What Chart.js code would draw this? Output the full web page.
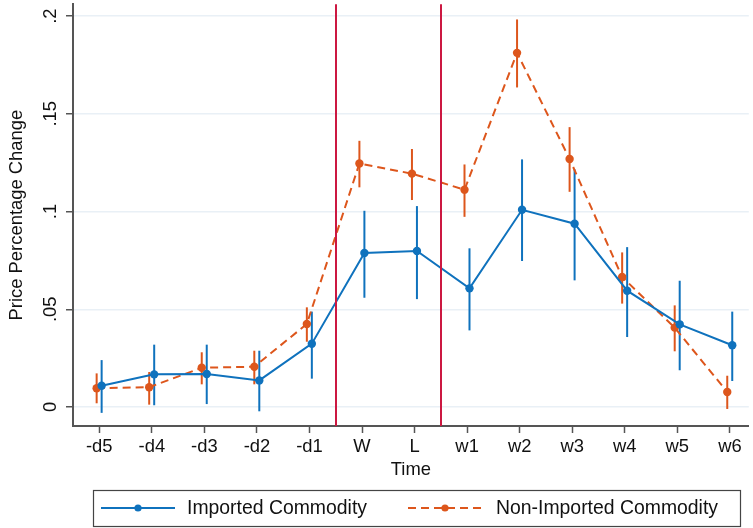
<!DOCTYPE html>
<html>
<head>
<meta charset="utf-8">
<title>Price Percentage Change over Time</title>
<script src="https://cdn.jsdelivr.net/npm/chart.js@4/dist/chart.umd.min.js"></script>
<style>
  html, body { margin: 0; padding: 0; background: #ffffff; }
  #wrap { width: 753px; height: 528px; }
</style>
</head>
<body>
<div id="wrap"><canvas id="chart" width="753" height="528"></canvas></div>
<script>
// Event periods
const timeLabels = ['-d5', '-d4', '-d3', '-d2', '-d1', 'W', 'L', 'w1', 'w2', 'w3', 'w4', 'w5', 'w6'];

// Imported commodity: estimate and confidence interval
const importedMean = [0.0109, 0.0167, 0.0169, 0.0136, 0.0324, 0.0788, 0.0798, 0.0607, 0.1009, 0.0938, 0.0595, 0.0423, 0.0316];
const importedLow  = [-0.0030, 0.0009, 0.0015, -0.0022, 0.0145, 0.0559, 0.0552, 0.0392, 0.0747, 0.0648, 0.0358, 0.0188, 0.0133];
const importedHigh = [0.0240, 0.0319, 0.0319, 0.0288, 0.0488, 0.1004, 0.1028, 0.0812, 0.1267, 0.1216, 0.0818, 0.0646, 0.0488];

// Non-imported commodity: estimate and confidence interval
const nonImportedMean = [0.0096, 0.0101, 0.0201, 0.0206, 0.0425, 0.1246, 0.1194, 0.1112, 0.1812, 0.1269, 0.0665, 0.0406, 0.0077];
const nonImportedLow  = [0.0019, 0.0012, 0.0116, 0.0116, 0.0334, 0.1124, 0.1059, 0.0973, 0.1635, 0.1101, 0.0529, 0.0285, -0.0010];
const nonImportedHigh = [0.0172, 0.0179, 0.0280, 0.0288, 0.0510, 0.1362, 0.1320, 0.1241, 0.1983, 0.1432, 0.0791, 0.0520, 0.0160];

// Y axis ticks and their labels
const yTickValues = [0, 0.05, 0.1, 0.15, 0.2];
const yTickLabels = ['0', '.05', '.1', '.15', '.2'];

// Period boundaries (between -d1/W and between L/w1)
const periodBreaks = [4.5, 6.5];

const BLUE = '#0f72bd';
const ORANGE = '#dd561c';
const CRIMSON = '#cc1841';
const AXIS = '#555555';
const FONT = '"Liberation Sans", Arial, Helvetica, sans-serif';

// small horizontal dodge so the two series do not overlap
const dodge = { imported: 0.045, nonImported: -0.05 };

function toPoints(values, shift) {
  return values.map((v, i) => ({ x: i + shift, y: v }));
}

Chart.defaults.font.family = FONT;
Chart.defaults.color = '#111111';

// Confidence-interval spikes drawn from each dataset's low/high arrays
const intervalPlugin = {
  id: 'intervals',
  beforeDatasetsDraw(chart) {
    const { ctx, scales: { x, y } } = chart;
    ctx.save();
    chart.data.datasets.forEach((ds, di) => {
      if (!chart.isDatasetVisible(di)) return;
      ctx.strokeStyle = ds.borderColor;
      ctx.lineWidth = 2;
      ds.data.forEach((p, i) => {
        const px = x.getPixelForValue(p.x);
        ctx.beginPath();
        ctx.moveTo(px, y.getPixelForValue(ds.ciLow[i]));
        ctx.lineTo(px, y.getPixelForValue(ds.ciHigh[i]));
        ctx.stroke();
      });
    });
    ctx.restore();
  }
};

// Vertical period markers
const breakPlugin = {
  id: 'breaks',
  afterDatasetsDraw(chart) {
    const { ctx, chartArea, scales: { x } } = chart;
    ctx.save();
    ctx.strokeStyle = CRIMSON;
    ctx.lineWidth = 2;
    periodBreaks.forEach(b => {
      const px = Math.round(x.getPixelForValue(b));
      ctx.beginPath();
      ctx.moveTo(px, chartArea.top);
      ctx.lineTo(px, chartArea.bottom);
      ctx.stroke();
    });
    ctx.restore();
  }
};

// Boxed legend with line + marker samples
const boxLegendPlugin = {
  id: 'boxLegend',
  afterDraw(chart, args, opts) {
    const { ctx } = chart;
    const box = opts.box;
    ctx.save();
    ctx.fillStyle = '#ffffff';
    ctx.fillRect(box.left, box.top, box.right - box.left, box.bottom - box.top);
    ctx.strokeStyle = '#444444';
    ctx.lineWidth = 1.2;
    ctx.strokeRect(box.left + 0.5, box.top + 0.5, box.right - box.left, box.bottom - box.top);

    chart.data.datasets.forEach((ds, i) => {
      const item = opts.items[i];
      ctx.strokeStyle = ds.borderColor;
      ctx.lineWidth = 2;
      ctx.setLineDash(ds.borderDash || []);
      ctx.beginPath();
      ctx.moveTo(item.x0, opts.lineY);
      ctx.lineTo(item.x1, opts.lineY);
      ctx.stroke();
      ctx.setLineDash([]);
      ctx.fillStyle = ds.borderColor;
      ctx.beginPath();
      ctx.arc((item.x0 + item.x1) / 2, opts.lineY, 3.6, 0, Math.PI * 2);
      ctx.fill();
      ctx.fillStyle = '#111111';
      ctx.font = opts.font;
      ctx.textAlign = 'left';
      ctx.textBaseline = 'middle';
      ctx.fillText(ds.label, item.textX, opts.textY);
    });
    ctx.restore();
  }
};

new Chart(document.getElementById('chart'), {
  type: 'line',
  data: {
    datasets: [
      {
        label: 'Imported Commodity',
        data: toPoints(importedMean, dodge.imported),
        ciLow: importedLow,
        ciHigh: importedHigh,
        borderColor: BLUE,
        backgroundColor: BLUE,
        borderWidth: 2,
        pointRadius: 4.2,
        pointBorderWidth: 0,
        pointBackgroundColor: BLUE,
        tension: 0,
        fill: false
      },
      {
        label: 'Non-Imported Commodity',
        data: toPoints(nonImportedMean, dodge.nonImported),
        ciLow: nonImportedLow,
        ciHigh: nonImportedHigh,
        borderColor: ORANGE,
        backgroundColor: ORANGE,
        borderWidth: 2,
        borderDash: [8, 5],
        pointRadius: 4.2,
        pointBorderWidth: 0,
        pointBackgroundColor: ORANGE,
        tension: 0,
        fill: false
      }
    ]
  },
  options: {
    responsive: false,
    animation: false,
    devicePixelRatio: 1,
    layout: { padding: { left: 0, right: 0, top: 4, bottom: 46 } },
    plugins: {
      legend: { display: false },
      tooltip: { enabled: false },
      boxLegend: {
        box: { left: 93, right: 740, top: 490, bottom: 526 },
        lineY: 508,
        textY: 509,
        font: '19.4px ' + FONT,
        items: [
          { x0: 101, x1: 175, textX: 187 },
          { x0: 408, x1: 482, textX: 496 }
        ]
      }
    },
    scales: {
      x: {
        type: 'linear',
        min: -0.5,
        max: 12.36,
        afterBuildTicks(scale) {
          scale.ticks = timeLabels.map((_, i) => ({ value: i }));
        },
        afterFit(scale) {
          scale.height = 56;
          scale.paddingLeft = 0;
          scale.paddingRight = 0;
        },
        ticks: {
          autoSkip: false,
          maxRotation: 0,
          minRotation: 0,
          padding: 3,
          color: '#111111',
          font: { size: 18.4 },
          callback: (v) => timeLabels[v] ?? ''
        },
        grid: {
          drawOnChartArea: false,
          drawTicks: true,
          tickLength: 7,
          tickColor: AXIS,
          tickWidth: 1.5
        },
        border: { display: true, color: AXIS, width: 2 },
        title: {
          display: true,
          text: 'Time',
          color: '#111111',
          font: { size: 18.4 },
          padding: { top: 0, bottom: 1 }
        }
      },
      y: {
        type: 'linear',
        min: -0.00972,
        max: 0.2061,
        afterBuildTicks(scale) {
          scale.ticks = yTickValues.map(v => ({ value: v }));
        },
        afterFit(scale) {
          scale.width = 73;
          scale.paddingTop = 0;
          scale.paddingBottom = 0;
        },
        ticks: {
          minRotation: 90,
          maxRotation: 90,
          crossAlign: 'center',
          padding: 2,
          color: '#111111',
          font: { size: 18.4 },
          callback: (v) => {
            const k = yTickValues.indexOf(v);
            return k >= 0 ? yTickLabels[k] : '';
          }
        },
        grid: {
          color: '#e9f0f6',
          lineWidth: 1.5,
          drawTicks: true,
          tickLength: 7,
          tickColor: AXIS,
          tickWidth: 1.5
        },
        border: { display: true, color: AXIS, width: 2 },
        title: {
          display: true,
          text: 'Price Percentage Change',
          color: '#111111',
          font: { size: 18.4 },
          padding: { top: 6, bottom: 0 }
        }
      }
    }
  },
  plugins: [intervalPlugin, breakPlugin, boxLegendPlugin]
});
</script>
</body>
</html>
